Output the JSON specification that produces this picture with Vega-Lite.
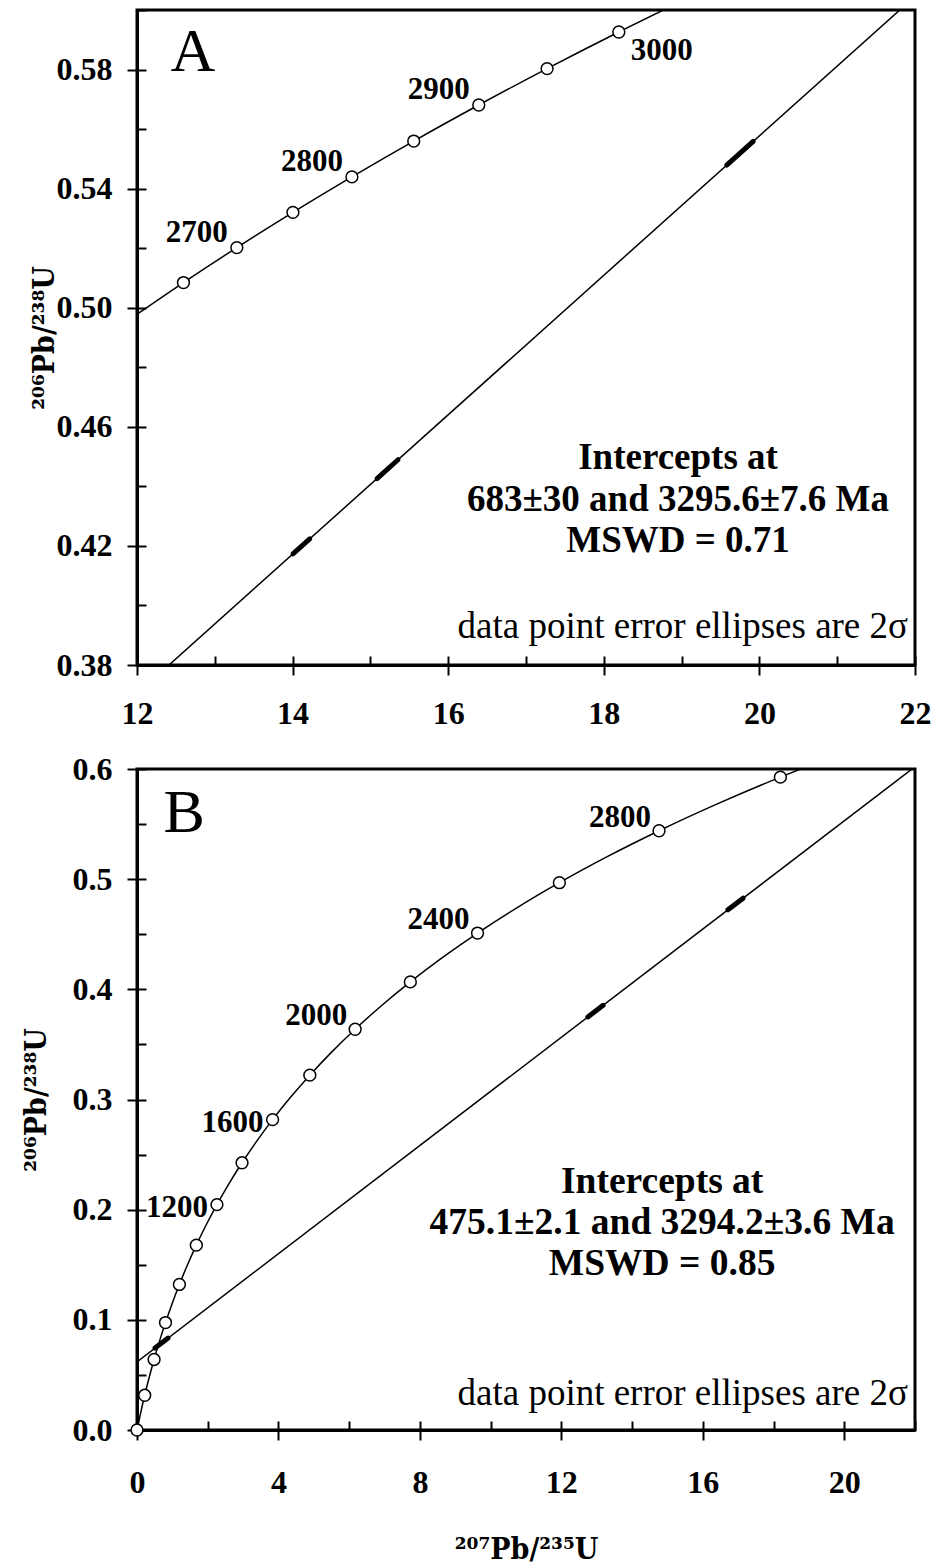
{
  "$schema": "https://vega.github.io/schema/vega-lite/v6.json",
  "background": "white",
  "padding": {"left": 19, "top": 7, "right": 0, "bottom": 0},
  "spacing": 20,
  "config": {
    "view": {"stroke": "black", "strokeWidth": 3},
    "font": "Liberation Serif",
    "axis": {
      "domainColor": "black", "domainWidth": 3,
      "tickColor": "black", "tickWidth": 2,
      "labelColor": "black", "labelFont": "Liberation Serif", "labelFontSize": 32, "labelFontWeight": "bold",
      "titleColor": "black", "titleFont": "DejaVu Serif Condensed, DejaVu Serif, serif", "titleFontWeight": "bold", "titleFontSize": 30,
      "grid": false, "labelFlush": false, "labelOverlap": false
    }
  },
  "datasets": {
    "concA": [
      {"age": 2600, "x": 11.944, "y": 0.49679},
      {"age": 2650, "x": 12.597, "y": 0.50845},
      {"age": 2700, "x": 13.283, "y": 0.52019},
      {"age": 2750, "x": 14.004, "y": 0.53203},
      {"age": 2800, "x": 14.762, "y": 0.54395},
      {"age": 2850, "x": 15.557, "y": 0.55598},
      {"age": 2900, "x": 16.393, "y": 0.56809},
      {"age": 2950, "x": 17.271, "y": 0.58030},
      {"age": 3000, "x": 18.193, "y": 0.59261},
      {"age": 3050, "x": 19.162, "y": 0.60501}
    ],
    "concB": [
      {"age": 0, "x": 0, "y": 0},
      {"age": 100, "x": 0.1035, "y": 0.01563},
      {"age": 200, "x": 0.2177, "y": 0.03151},
      {"age": 300, "x": 0.3437, "y": 0.04764},
      {"age": 400, "x": 0.4828, "y": 0.06402},
      {"age": 500, "x": 0.6363, "y": 0.08065},
      {"age": 600, "x": 0.8056, "y": 0.09754},
      {"age": 700, "x": 0.9925, "y": 0.11470},
      {"age": 800, "x": 1.1987, "y": 0.13213},
      {"age": 900, "x": 1.4263, "y": 0.14983},
      {"age": 1000, "x": 1.6774, "y": 0.16780},
      {"age": 1100, "x": 1.9545, "y": 0.18606},
      {"age": 1200, "x": 2.2603, "y": 0.20460},
      {"age": 1300, "x": 2.5977, "y": 0.22344},
      {"age": 1400, "x": 2.9701, "y": 0.24256},
      {"age": 1500, "x": 3.3810, "y": 0.26199},
      {"age": 1600, "x": 3.8344, "y": 0.28172},
      {"age": 1700, "x": 4.3348, "y": 0.30175},
      {"age": 1800, "x": 4.8869, "y": 0.32210},
      {"age": 1900, "x": 5.4962, "y": 0.34277},
      {"age": 2000, "x": 6.1685, "y": 0.36377},
      {"age": 2100, "x": 6.9105, "y": 0.38509},
      {"age": 2200, "x": 7.7292, "y": 0.40674},
      {"age": 2300, "x": 8.6326, "y": 0.42873},
      {"age": 2400, "x": 9.6296, "y": 0.45107},
      {"age": 2500, "x": 10.7297, "y": 0.47375},
      {"age": 2600, "x": 11.9437, "y": 0.49679},
      {"age": 2700, "x": 13.283, "y": 0.52019},
      {"age": 2800, "x": 14.762, "y": 0.54395},
      {"age": 2900, "x": 16.393, "y": 0.56809},
      {"age": 3000, "x": 18.193, "y": 0.59261},
      {"age": 3050, "x": 19.162, "y": 0.60501}
    ],
    "discA": [{"x": 12, "y": 0.37036}, {"x": 22, "y": 0.60458}],
    "discB": [{"x": 0, "y": 0.06183}, {"x": 22, "y": 0.60206}],
    "ellA": [
      {"x_lo": 14.005, "y_lo": 0.41732, "x_hi": 14.22, "y_hi": 0.42236},
      {"x_lo": 15.085, "y_lo": 0.44262, "x_hi": 15.355, "y_hi": 0.44894},
      {"x_lo": 19.58, "y_lo": 0.54791, "x_hi": 19.92, "y_hi": 0.55587}
    ],
    "ellB": [
      {"x_lo": 0.51, "y_lo": 0.07436, "x_hi": 0.88, "y_hi": 0.08344},
      {"x_lo": 12.75, "y_lo": 0.37492, "x_hi": 13.18, "y_hi": 0.38548},
      {"x_lo": 16.71, "y_lo": 0.47216, "x_hi": 17.14, "y_hi": 0.48272}
    ]
  },
  "vconcat": [
    {
      "width": 778, "height": 655,
      "resolve": {"axis": {"x": "independent", "y": "independent"}},
      "layer": [
        {
          "data": {"name": "discA"},
          "mark": {"type": "line", "clip": true, "color": "black", "strokeWidth": 1.5},
          "encoding": {
            "x": {"field": "x", "type": "quantitative", "scale": {"domain": [12, 22], "nice": false, "zero": false},
                  "axis": {"orient": "bottom", "values": [12, 14, 16, 18, 20, 22], "format": "d", "tickSize": 10, "labelPadding": 23, "title": null}},
            "y": {"field": "y", "type": "quantitative", "scale": {"domain": [0.38, 0.6], "nice": false, "zero": false},
                  "axis": {"orient": "left", "values": [0.38, 0.42, 0.46, 0.5, 0.54, 0.58], "format": ".2f", "tickSize": 10, "labelPadding": 15,
                           "title": "²⁰⁶Pb/²³⁸U", "titleAngle": 270, "titleBaseline": "alphabetic", "titleAlign": "center", "titleX": -84, "titleY": 327.5}}
          }
        },
        {
          "data": {"name": "concA"},
          "mark": {"type": "line", "clip": true, "color": "black", "strokeWidth": 1.5, "interpolate": "monotone"},
          "encoding": {
            "x": {"field": "x", "type": "quantitative",
                  "axis": {"orient": "bottom", "values": [12, 13, 14, 15, 16, 17, 18, 19, 20, 21, 22], "tickSize": -9, "labels": false, "domain": false, "title": null}},
            "y": {"field": "y", "type": "quantitative",
                  "axis": {"orient": "left", "values": [0.38, 0.4, 0.42, 0.44, 0.46, 0.48, 0.5, 0.52, 0.54, 0.56, 0.58, 0.6], "tickSize": -9, "labels": false, "domain": false, "title": null}}
          }
        },
        {
          "data": {"name": "ellA"},
          "mark": {"type": "rule", "color": "black", "strokeWidth": 5, "strokeCap": "round"},
          "encoding": {
            "x": {"field": "x_lo", "type": "quantitative", "axis": null},
            "y": {"field": "y_lo", "type": "quantitative", "axis": null},
            "x2": {"field": "x_hi"},
            "y2": {"field": "y_hi"}
          }
        },
        {
          "data": {"name": "concA"},
          "transform": [{"filter": "datum.age >= 2650 && datum.age <= 3000"}],
          "mark": {"type": "point", "shape": "circle", "filled": true, "fill": "white", "stroke": "black", "strokeWidth": 1.5, "size": 140, "opacity": 1},
          "encoding": {
            "x": {"field": "x", "type": "quantitative", "axis": null},
            "y": {"field": "y", "type": "quantitative", "axis": null}
          }
        },
        {
          "data": {"name": "concA"},
          "transform": [{"filter": "datum.age % 100 == 0 && datum.age >= 2700 && datum.age <= 2900"}],
          "mark": {"type": "text", "align": "right", "baseline": "alphabetic", "dx": -9, "dy": -6, "fontSize": 31, "fontWeight": "bold", "font": "Liberation Serif", "color": "black"},
          "encoding": {
            "x": {"field": "x", "type": "quantitative", "axis": null},
            "y": {"field": "y", "type": "quantitative", "axis": null},
            "text": {"field": "age", "type": "nominal"}
          }
        },
        {
          "data": {"name": "concA"},
          "transform": [{"filter": "datum.age == 3000"}],
          "mark": {"type": "text", "align": "left", "baseline": "top", "dx": 12, "dy": 4, "fontSize": 31, "fontWeight": "bold", "font": "Liberation Serif", "color": "black"},
          "encoding": {
            "x": {"field": "x", "type": "quantitative", "axis": null},
            "y": {"field": "y", "type": "quantitative", "axis": null},
            "text": {"field": "age", "type": "nominal"}
          }
        },
        {
          "data": {"values": [{}]},
          "mark": {"type": "text", "text": "A", "align": "left", "baseline": "alphabetic", "fontSize": 62, "font": "Liberation Serif", "color": "black"},
          "encoding": {
            "x": {"datum": 12.43, "type": "quantitative", "axis": null},
            "y": {"datum": 0.5795, "type": "quantitative", "axis": null}
          }
        },
        {
          "data": {"values": [{}]},
          "mark": {"type": "text", "text": ["Intercepts at", "683±30 and 3295.6±7.6 Ma", "MSWD = 0.71"], "align": "center", "baseline": "alphabetic", "lineHeight": 41.5, "fontSize": 37, "fontWeight": "bold", "font": "Liberation Serif", "color": "black"},
          "encoding": {
            "x": {"datum": 18.954, "type": "quantitative", "axis": null},
            "y": {"datum": 0.44571, "type": "quantitative", "axis": null}
          }
        },
        {
          "data": {"values": [{}]},
          "mark": {"type": "text", "text": "data point error ellipses are 2σ", "align": "right", "baseline": "alphabetic", "fontSize": 37, "font": "Liberation Serif", "color": "black"},
          "encoding": {
            "x": {"datum": 21.91, "type": "quantitative", "axis": null},
            "y": {"datum": 0.3891, "type": "quantitative", "axis": null}
          }
        }
      ]
    },
    {
      "width": 778, "height": 661,
      "resolve": {"axis": {"x": "independent", "y": "independent"}},
      "layer": [
        {
          "data": {"name": "discB"},
          "mark": {"type": "line", "clip": true, "color": "black", "strokeWidth": 1.5},
          "encoding": {
            "x": {"field": "x", "type": "quantitative", "scale": {"domain": [0, 22], "nice": false, "zero": false},
                  "axis": {"orient": "bottom", "values": [0, 4, 8, 12, 16, 20], "format": "d", "tickSize": 10, "labelPadding": 27,
                           "title": "²⁰⁷Pb/²³⁵U", "titleBaseline": "alphabetic", "titleAlign": "center", "titleX": 389, "titleY": 128}},
            "y": {"field": "y", "type": "quantitative", "scale": {"domain": [0, 0.6], "nice": false, "zero": false},
                  "axis": {"orient": "left", "values": [0, 0.1, 0.2, 0.3, 0.4, 0.5, 0.6], "format": ".1f", "tickSize": 10, "labelPadding": 15,
                           "title": "²⁰⁶Pb/²³⁸U", "titleAngle": 270, "titleBaseline": "alphabetic", "titleAlign": "center", "titleX": -92, "titleY": 330.5}}
          }
        },
        {
          "data": {"name": "concB"},
          "mark": {"type": "line", "clip": true, "color": "black", "strokeWidth": 1.5, "interpolate": "monotone"},
          "encoding": {
            "x": {"field": "x", "type": "quantitative",
                  "axis": {"orient": "bottom", "values": [0, 2, 4, 6, 8, 10, 12, 14, 16, 18, 20, 22], "tickSize": -9, "labels": false, "domain": false, "title": null}},
            "y": {"field": "y", "type": "quantitative",
                  "axis": {"orient": "left", "values": [0, 0.05, 0.1, 0.15, 0.2, 0.25, 0.3, 0.35, 0.4, 0.45, 0.5, 0.55, 0.6], "tickSize": -9, "labels": false, "domain": false, "title": null}}
          }
        },
        {
          "data": {"name": "ellB"},
          "mark": {"type": "rule", "color": "black", "strokeWidth": 5, "strokeCap": "round"},
          "encoding": {
            "x": {"field": "x_lo", "type": "quantitative", "axis": null},
            "y": {"field": "y_lo", "type": "quantitative", "axis": null},
            "x2": {"field": "x_hi"},
            "y2": {"field": "y_hi"}
          }
        },
        {
          "data": {"name": "concB"},
          "transform": [{"filter": "datum.age % 200 == 0 && datum.age <= 3000"}],
          "mark": {"type": "point", "shape": "circle", "filled": true, "fill": "white", "stroke": "black", "strokeWidth": 1.5, "size": 140, "opacity": 1},
          "encoding": {
            "x": {"field": "x", "type": "quantitative", "axis": null},
            "y": {"field": "y", "type": "quantitative", "axis": null}
          }
        },
        {
          "data": {"name": "concB"},
          "transform": [{"filter": "datum.age == 1200 || datum.age == 1600"}],
          "mark": {"type": "text", "align": "right", "baseline": "middle", "dx": -9, "dy": 3, "fontSize": 31, "fontWeight": "bold", "font": "Liberation Serif", "color": "black"},
          "encoding": {
            "x": {"field": "x", "type": "quantitative", "axis": null},
            "y": {"field": "y", "type": "quantitative", "axis": null},
            "text": {"field": "age", "type": "nominal"}
          }
        },
        {
          "data": {"name": "concB"},
          "transform": [{"filter": "datum.age == 2000 || datum.age == 2400 || datum.age == 2800"}],
          "mark": {"type": "text", "align": "right", "baseline": "alphabetic", "dx": -8, "dy": -4, "fontSize": 31, "fontWeight": "bold", "font": "Liberation Serif", "color": "black"},
          "encoding": {
            "x": {"field": "x", "type": "quantitative", "axis": null},
            "y": {"field": "y", "type": "quantitative", "axis": null},
            "text": {"field": "age", "type": "nominal"}
          }
        },
        {
          "data": {"values": [{}]},
          "mark": {"type": "text", "text": "B", "align": "left", "baseline": "alphabetic", "fontSize": 62, "font": "Liberation Serif", "color": "black"},
          "encoding": {
            "x": {"datum": 0.75, "type": "quantitative", "axis": null},
            "y": {"datum": 0.5428, "type": "quantitative", "axis": null}
          }
        },
        {
          "data": {"values": [{}]},
          "mark": {"type": "text", "text": ["Intercepts at", "475.1±2.1 and 3294.2±3.6 Ma", "MSWD = 0.85"], "align": "center", "baseline": "alphabetic", "lineHeight": 41, "fontSize": 37.5, "fontWeight": "bold", "font": "Liberation Serif", "color": "black"},
          "encoding": {
            "x": {"datum": 14.85, "type": "quantitative", "axis": null},
            "y": {"datum": 0.2151, "type": "quantitative", "axis": null}
          }
        },
        {
          "data": {"values": [{}]},
          "mark": {"type": "text", "text": "data point error ellipses are 2σ", "align": "right", "baseline": "alphabetic", "fontSize": 37, "font": "Liberation Serif", "color": "black"},
          "encoding": {
            "x": {"datum": 21.8, "type": "quantitative", "axis": null},
            "y": {"datum": 0.0227, "type": "quantitative", "axis": null}
          }
        }
      ]
    }
  ]
}
